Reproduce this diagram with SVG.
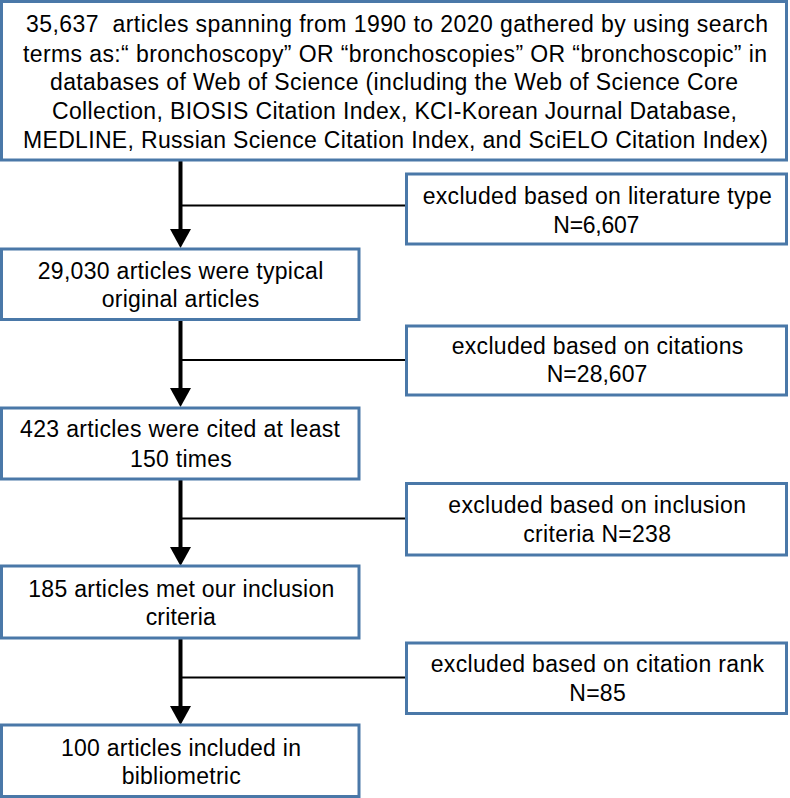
<svg xmlns="http://www.w3.org/2000/svg" width="790" height="798" viewBox="0 0 790 798">
<style>
.box{fill:#fff;stroke:#4a78a8;stroke-width:3}
text{font-family:"Liberation Sans",Arial,sans-serif;font-size:23px;fill:#000}
.v{stroke:#000;stroke-width:4;fill:none}
.h{stroke:#000;stroke-width:2;fill:none}
.ah{fill:#000}
</style>
<rect width="790" height="798" fill="#fff"/>
<g id="connectors">
<line class="v" x1="180.5" y1="160" x2="180.5" y2="231"/>
<line class="h" x1="180.5" y1="205.5" x2="406" y2="205.5"/>
<polygon class="ah" points="170,229 191,229 180.5,248"/>
<line class="v" x1="180.5" y1="320" x2="180.5" y2="390"/>
<line class="h" x1="180.5" y1="360" x2="406" y2="360"/>
<polygon class="ah" points="170,388 191,388 180.5,407"/>
<line class="v" x1="180.5" y1="479" x2="180.5" y2="549"/>
<line class="h" x1="180.5" y1="518.5" x2="406" y2="518.5"/>
<polygon class="ah" points="170,547 191,547 180.5,566"/>
<line class="v" x1="180.5" y1="638" x2="180.5" y2="708"/>
<line class="h" x1="180.5" y1="677.5" x2="406" y2="677.5"/>
<polygon class="ah" points="170,706 191,706 180.5,725"/>
</g>
<g id="n1">
<rect class="box" x="1.5" y="1.5" width="785" height="158.5"/>
<text x="26" y="32" textLength="742" lengthAdjust="spacing">35,637&#160; articles spanning from 1990 to 2020 gathered by using search</text>
<text x="23" y="61.5" textLength="744" lengthAdjust="spacing">terms as:“ bronchoscopy” OR “bronchoscopies” OR “bronchoscopic” in</text>
<text x="50" y="89.5" textLength="688" lengthAdjust="spacing">databases of Web of Science (including the Web of Science Core</text>
<text x="52" y="118.5" textLength="685" lengthAdjust="spacing">Collection, BIOSIS Citation Index, KCI-Korean Journal Database,</text>
<text x="23" y="147.5" textLength="745" lengthAdjust="spacing">MEDLINE, Russian Science Citation Index, and SciELO Citation Index)</text>
</g>
<g id="e1">
<rect class="box" x="406.5" y="174" width="380" height="70"/>
<text x="422.7" y="203.5" textLength="349" lengthAdjust="spacing">excluded based on literature type</text>
<text x="553.3" y="233.3" textLength="86" lengthAdjust="spacing">N=6,607</text>
</g>
<g id="n2">
<rect class="box" x="1.5" y="249" width="357.5" height="70.5"/>
<text x="37.7" y="279" textLength="285.6" lengthAdjust="spacing">29,030 articles were typical</text>
<text x="101.7" y="307" textLength="157.6" lengthAdjust="spacing">original articles</text>
</g>
<g id="e2">
<rect class="box" x="406.5" y="326" width="380" height="69"/>
<text x="451.7" y="354" textLength="291.6" lengthAdjust="spacing">excluded based on citations</text>
<text x="546.7" y="382.3" textLength="100.6" lengthAdjust="spacing">N=28,607</text>
</g>
<g id="n3">
<rect class="box" x="1.5" y="408" width="357.5" height="71"/>
<text x="20" y="437" textLength="320" lengthAdjust="spacing">423 articles were cited at least</text>
<text x="130" y="466.7" textLength="101.7" lengthAdjust="spacing">150 times</text>
</g>
<g id="e3">
<rect class="box" x="406.5" y="483.5" width="380" height="71.5"/>
<text x="448.3" y="513.3" textLength="297.7" lengthAdjust="spacing">excluded based on inclusion</text>
<text x="523.3" y="541.7" textLength="147.7" lengthAdjust="spacing">criteria N=238</text>
</g>
<g id="n4">
<rect class="box" x="1.5" y="566" width="357.5" height="72"/>
<text x="28.3" y="596.7" textLength="306" lengthAdjust="spacing">185 articles met our inclusion</text>
<text x="145.7" y="625" textLength="70" lengthAdjust="spacing">criteria</text>
</g>
<g id="e4">
<rect class="box" x="406.5" y="643" width="380" height="70.5"/>
<text x="430.7" y="672.3" textLength="333.3" lengthAdjust="spacing">excluded based on citation rank</text>
<text x="569.3" y="700.7" textLength="56.4" lengthAdjust="spacing">N=85</text>
</g>
<g id="n5">
<rect class="box" x="1.5" y="725" width="357.5" height="71.5"/>
<text x="61" y="756" textLength="240" lengthAdjust="spacing">100 articles included in</text>
<text x="121.7" y="784.3" textLength="119" lengthAdjust="spacing">bibliometric</text>
</g>
</svg>
